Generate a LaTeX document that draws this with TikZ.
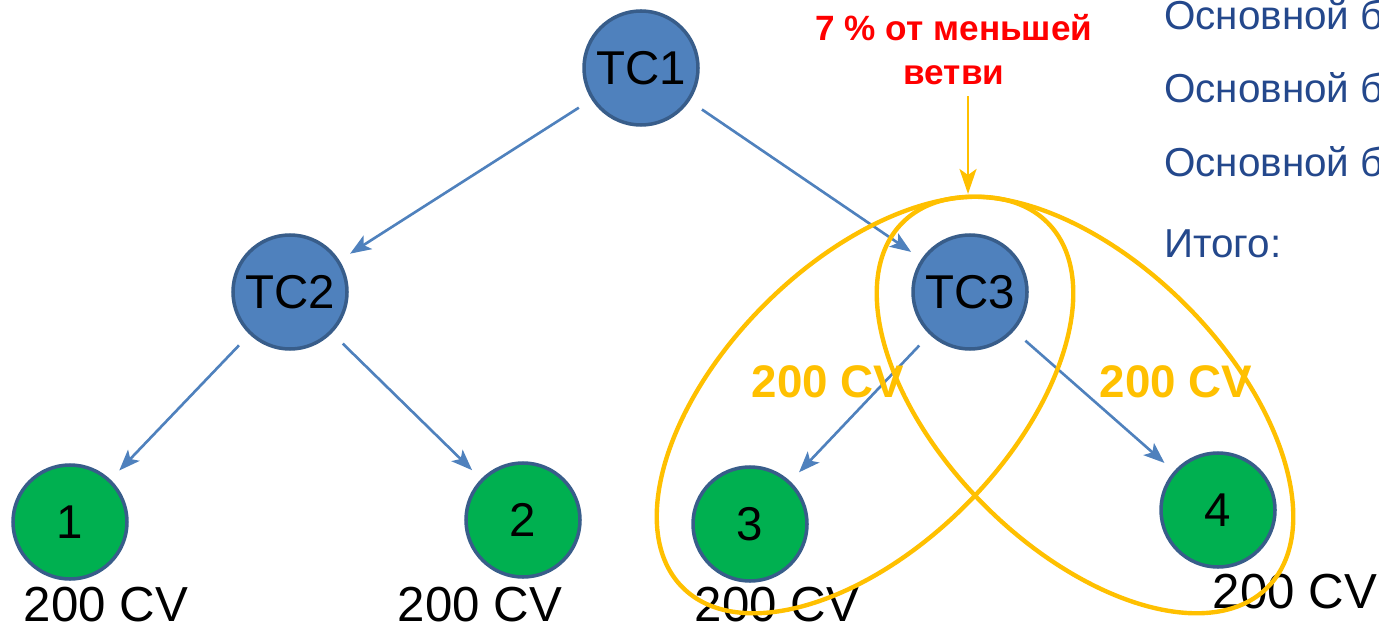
\documentclass[tikz,border=0pt]{standalone}
\usepackage{fontspec}
\setmainfont{Liberation Sans}
\usepackage{xcolor}
\usepackage{tikz}
\usetikzlibrary{arrows.meta}

\definecolor{tcblue}{RGB}{79,129,189}
\definecolor{tcedge}{RGB}{56,93,138}
\definecolor{leafgreen}{RGB}{0,176,80}
\definecolor{cvyellow}{RGB}{255,192,0}
\definecolor{notered}{RGB}{255,0,0}
\definecolor{listblue}{RGB}{36,72,140}

\begin{document}
\begin{tikzpicture}[
  tc/.style={circle, draw=tcedge, line width=2pt, fill=tcblue, minimum size=2.28cm, inner sep=0pt, font=\fontsize{27}{30}\selectfont},
  leaf/.style={tc, fill=leafgreen},
  link/.style={-{Stealth[length=0.42cm, width=0.32cm, inset=0.1cm]}, line width=1.5pt, draw=tcblue, shorten <=0.3cm, shorten >=0.25cm},
  cv/.style={anchor=base, inner sep=0pt, text depth=0pt, font=\fontsize{28}{32}\selectfont},
  branchcv/.style={anchor=base, text=cvyellow, font=\bfseries\fontsize{26}{30}\selectfont},
  branch/.style={draw=cvyellow, line width=2.5pt},
  listline/.style={anchor=base west, text=listblue, font=\fontsize{23}{27}\selectfont}
]
\useasboundingbox (0,0) rectangle (27.58,12.58);

% Tree
\node[tc] (tc1) at (12.82,11.22) {TC1};
\node[tc] (tc2) at (5.80,6.74) {TC2};
\node[tc] (tc3) at (19.40,6.74) {TC3};
\node[leaf] (n1) at (1.40,2.14) {1};
\node[leaf] (n2) at (10.46,2.18) {2};
\node[leaf] (n3) at (15.00,2.10) {3};
\node[leaf] (n4) at (24.36,2.38) {4};

\draw[link] (tc1) -- (tc2);
\draw[link] (tc1) -- (tc3);
\draw[link] (tc2) -- (n1);
\draw[link] (tc2) -- (n2);
\draw[link] (tc3) -- (n3);
\draw[link] (tc3) -- (n4);

% Volumes under the leaves
\node[cv] (cv1) at (2.12,0.16) {200 CV};
\node[cv] (cv2) at (9.60,0.16) {200 CV};
\node[cv] (cv3) at (15.54,0.16) {200 CV};
\node[cv] (cv4) at (25.90,0.42) {200 CV};

% Branches of TC3
\draw[branch, rotate around={45:(17.30,4.48)}] (17.30,4.48) ellipse (5.16 and 2.84);
\draw[branch, rotate around={-45:(21.70,4.48)}] (21.70,4.48) ellipse (5.16 and 2.84);
\node[branchcv] (bcv3) at (16.56,4.64) {200 CV};
\node[branchcv] (bcv4) at (23.52,4.64) {200 CV};

% Note
\node[align=center, text=notered, font=\bfseries\fontsize{20}{25}\selectfont] (note) at (19.08,11.58) {7 \% от меньшей\\ветви};
\coordinate (top) at (19.36,8.70);
\draw[-{Stealth[length=0.5cm, width=0.34cm, inset=0.12cm]}, draw=cvyellow, line width=1.6pt, shorten <=0.1cm] (note.south -| top) -- (top);

% Right list
\node[listline] (l1) at (23.16,11.98) {Основной б};
\node[listline] (l2) at (23.16,10.52) {Основной б};
\node[listline] (l3) at (23.16,9.04) {Основной б};
\node[listline] (l4) at (23.16,7.44) {Итого:};

\end{tikzpicture}
\end{document}
